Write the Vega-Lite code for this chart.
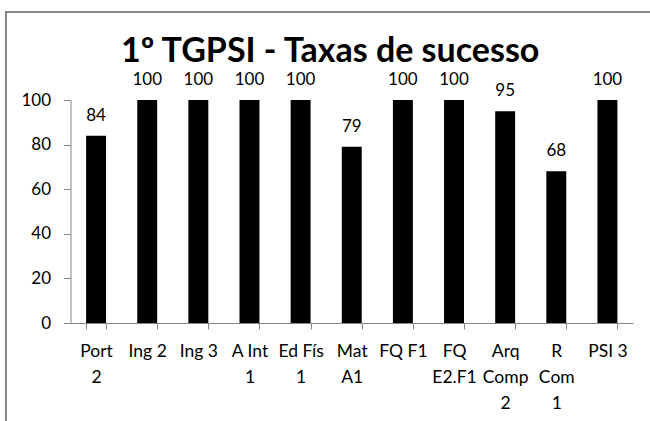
{
  "$schema": "https://vega.github.io/schema/vega-lite/v6.json",
  "autosize": {"type": "none"},
  "width": 700,
  "height": 450,
  "padding": {"left": 6, "top": 12, "right": 0, "bottom": 0},
  "background": "white",
  "config": {
    "view": {"stroke": "#878787", "strokeWidth": 2},
    "font": "Lato"
  },
  "title": {
    "text": "1º TGPSI - Taxas de sucesso",
    "font": "Lato",
    "fontSize": 34,
    "fontWeight": "bold",
    "color": "black",
    "anchor": "start",
    "frame": "group",
    "orient": "top",
    "baseline": "alphabetic",
    "offset": 0,
    "dx": 115,
    "dy": 84
  },
  "data": {
    "values": [
      {"subject": "Port 2", "rate": 84},
      {"subject": "Ing 2", "rate": 100},
      {"subject": "Ing 3", "rate": 100},
      {"subject": "A Int 1", "rate": 100},
      {"subject": "Ed Fís 1", "rate": 100},
      {"subject": "Mat A1", "rate": 79},
      {"subject": "FQ F1", "rate": 100},
      {"subject": "FQ E2.F1", "rate": 100},
      {"subject": "Arq Comp 2", "rate": 95},
      {"subject": "R Com 1", "rate": 68},
      {"subject": "PSI 3", "rate": 100}
    ]
  },
  "encoding": {
    "x": {
      "field": "subject",
      "type": "nominal",
      "sort": null,
      "scale": {"range": [64.5, 627], "paddingInner": 0.61, "paddingOuter": 0.305},
      "axis": {
        "title": null,
        "orient": "bottom",
        "offset": -139,
        "labelAngle": 0,
        "labelFont": "Lato",
        "labelFontSize": 17.5,
        "labelColor": "black",
        "labelLineHeight": 26,
        "labelPadding": 13,
        "labelBaseline": "top",
        "tickBand": "extent",
        "tickSize": 6,
        "tickColor": "#868686",
        "domainColor": "#868686",
        "labelExpr": "datum.label == 'Port 2' ? ['Port','2'] : datum.label == 'A Int 1' ? ['A Int','1'] : datum.label == 'Ed Fís 1' ? ['Ed Fís','1'] : datum.label == 'Mat A1' ? ['Mat','A1'] : datum.label == 'FQ E2.F1' ? ['FQ','E2.F1'] : datum.label == 'Arq Comp 2' ? ['Arq','Comp','2'] : datum.label == 'R Com 1' ? ['R','Com','1'] : datum.label"
      }
    },
    "y": {
      "field": "rate",
      "type": "quantitative",
      "scale": {"domain": [0, 100], "range": [311, 88], "nice": false, "zero": true},
      "axis": {
        "title": null,
        "orient": "left",
        "offset": -64.5,
        "values": [0, 20, 40, 60, 80, 100],
        "grid": false,
        "labelFont": "Lato",
        "labelFontSize": 17,
        "labelColor": "black",
        "labelPadding": 13,
        "tickSize": 7,
        "tickColor": "#868686",
        "domainColor": "#868686"
      }
    }
  },
  "layer": [
    {"mark": {"type": "bar", "color": "black"}},
    {
      "mark": {"type": "text", "font": "Lato", "fontSize": 17, "color": "black", "baseline": "alphabetic", "dy": -15},
      "encoding": {"text": {"field": "rate", "type": "quantitative"}}
    }
  ]
}
